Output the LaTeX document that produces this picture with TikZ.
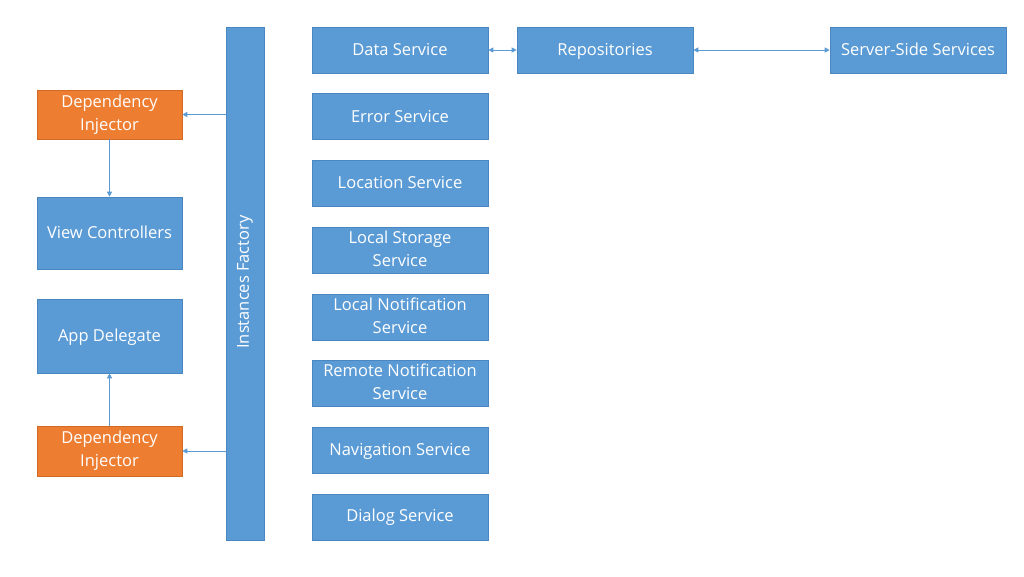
\documentclass[tikz,border=0pt]{standalone}
\usepackage{fontspec}
\setmainfont{Open Sans}
\usetikzlibrary{positioning,arrows.meta}
\definecolor{boxblue}{HTML}{5B9BD5}
\definecolor{boxorange}{HTML}{ED7D31}
\definecolor{edgeblue}{HTML}{4A86BF}
\definecolor{edgeorange}{HTML}{D26A25}
\newcommand{\boxstrut}{\rule[-3pt]{0pt}{17pt}}
\begin{document}
\begin{tikzpicture}[x=1pt,y=-1pt,node distance=66.7pt,on grid,
  svc/.style={rectangle,fill=boxblue,draw=edgeblue,line width=0.6pt,text=white,
    align=center,minimum width=176pt,minimum height=46pt,inner sep=0pt,
    font=\fontsize{16.5}{23}\selectfont,
    execute at begin node=\boxstrut,execute at end node=\boxstrut},
  inj/.style={svc,fill=boxorange,draw=edgeorange,minimum width=145pt},
  link/.style={draw=boxblue,line width=0.7pt,-{Triangle[length=5pt,width=5pt]}},
  both/.style={link,{Triangle[length=5pt,width=5pt]}-{Triangle[length=5pt,width=5pt]}}]
   \useasboundingbox (0,0) rectangle (1024,576);
   % factory bar
   \node[svc,minimum width=38pt,minimum height=513pt] (fac) at (245,283.5) {\rotatebox{90}{Instances Factory}};
   % services
   \node[svc] (data) at (400,50) {Data Service};
   \node[svc] (err) [below=of data] {Error Service};
   \node[svc] (loc) [below=of err] {Location Service};
   \node[svc] (store) [below=of loc] {Local Storage\\Service};
   \node[svc] (lnot) [below=of store] {Local Notification\\Service};
   \node[svc] (rnot) [below=of lnot] {Remote Notification\\Service};
   \node[svc] (nav) [below=of rnot] {Navigation Service};
   \node[svc] (dlg) [below=of nav] {Dialog Service};
   \node[svc] (repo) at (605,50) {Repositories};
   \node[svc] (srv) at (918,50) {Server-Side Services};
   % left column
   \node[inj,minimum height=49pt] (dit) at (109.5,114.5) {Dependency\\Injector};
   \node[svc,minimum width=145pt,minimum height=72pt] (vc) at (109.5,233) {View Controllers};
   \node[svc,minimum width=145pt,minimum height=74pt] (app) at (109.5,336) {App Delegate};
   \node[inj,minimum height=50pt] (dib) at (109.5,451) {Dependency\\Injector};
   % connectors
   \draw[link] (dit.east -| fac.west) -- (dit.east);
   \draw[link] (dib.east -| fac.west) -- (dib.east);
   \draw[link] (dit) -- (vc);
   \draw[link] (dib) -- (app);
   \draw[both] (data) -- (repo);
   \draw[both] (repo) -- (srv);
\end{tikzpicture}
\end{document}
